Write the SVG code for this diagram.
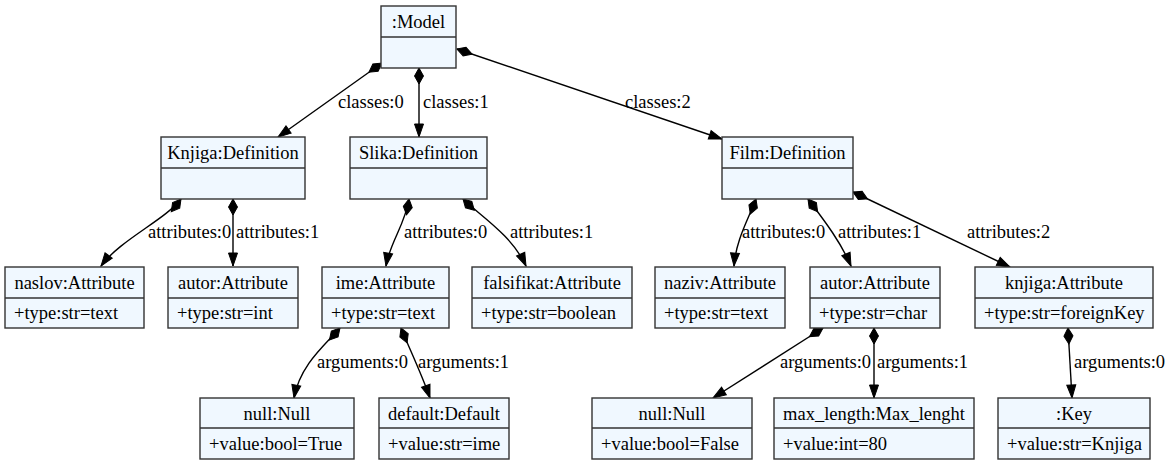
<svg xmlns="http://www.w3.org/2000/svg" width="1165" height="465" viewBox="0 0 1165 465" font-family="Times New Roman" font-size="18.5">
<style>
.box{fill:#f0f8ff;stroke:#333;stroke-width:1.4}
.div{stroke:#333;stroke-width:1.4}
.c{text-anchor:middle}
.e{fill:none;stroke:#000;stroke-width:1.4;marker-start:url(#dia);marker-end:url(#arr)}
</style>
<defs>
<marker id="dia" markerUnits="userSpaceOnUse" viewBox="-1 -6 19 12" markerWidth="19" markerHeight="12" refX="0" refY="0" orient="auto"><path d="M0,0 L8,-4.5 L16,0 L8,4.5 Z" fill="#000" stroke="#000" stroke-width="1"/></marker>
<marker id="arr" markerUnits="userSpaceOnUse" viewBox="-1 -6 15 12" markerWidth="15" markerHeight="12" refX="13" refY="0" orient="auto"><path d="M0,-4.5 L13,0 L0,4.5 Z" fill="#000" stroke="#000" stroke-width="1"/></marker>
</defs>
<rect width="1165" height="465" fill="#fff"/>
<g id="connectors">
<path class="e" d="M382,63 L278,137"/>
<path class="e" d="M419,68 L419,137"/>
<path class="e" d="M457,49 L722,139"/>
<path class="e" d="M181,199 C165,220 120,240 101,266"/>
<path class="e" d="M233,199 L233,266"/>
<path class="e" d="M409,199 C405,225 390,242 386,266"/>
<path class="e" d="M463,199 C478,214 512,235 526,266"/>
<path class="e" d="M756,199 C748,220 736,240 734,266"/>
<path class="e" d="M808,199 C820,215 840,240 851,266"/>
<path class="e" d="M853,192 L1010,267"/>
<path class="e" d="M340,328 C325,345 300,365 294,398"/>
<path class="e" d="M401,328 C410,350 422,375 430,398"/>
<path class="e" d="M823,328 L713,398"/>
<path class="e" d="M874,328 L874,398"/>
<path class="e" d="M1068,328 L1072,398"/>
<text x="338" y="108">classes:0</text>
<text x="423" y="108">classes:1</text>
<text x="625" y="108">classes:2</text>
<text x="148" y="238">attributes:0</text>
<text x="236" y="238">attributes:1</text>
<text x="404" y="238">attributes:0</text>
<text x="510" y="238">attributes:1</text>
<text x="742" y="238">attributes:0</text>
<text x="838" y="238">attributes:1</text>
<text x="967" y="238">attributes:2</text>
<text x="317" y="368">arguments:0</text>
<text x="418" y="368">arguments:1</text>
<text x="780" y="368">arguments:0</text>
<text x="877" y="368">arguments:1</text>
<text x="1074" y="368">arguments:0</text>
</g>
<g id="model"><rect class="box" x="381" y="6" width="75" height="62"/><line class="div" x1="381" y1="37" x2="456" y2="37"/><text class="c" x="418.5" y="28">:Model</text></g>
<g id="knjiga_def"><rect class="box" x="161" y="137" width="144" height="62"/><line class="div" x1="161" y1="168" x2="305" y2="168"/><text class="c" x="233" y="159">Knjiga:Definition</text></g>
<g id="slika_def"><rect class="box" x="350" y="137" width="137" height="62"/><line class="div" x1="350" y1="168" x2="487" y2="168"/><text class="c" x="418.5" y="159">Slika:Definition</text></g>
<g id="film_def"><rect class="box" x="722" y="137" width="131" height="62"/><line class="div" x1="722" y1="168" x2="853" y2="168"/><text class="c" x="787.5" y="159">Film:Definition</text></g>
<g id="naslov"><rect class="box" x="5" y="267" width="139" height="61"/><line class="div" x1="5" y1="298" x2="144" y2="298"/><text class="c" x="74.5" y="289">naslov:Attribute</text><text x="14" y="319">+type:str=text</text></g>
<g id="autor_k"><rect class="box" x="168" y="267" width="130" height="61"/><line class="div" x1="168" y1="298" x2="298" y2="298"/><text class="c" x="233" y="289">autor:Attribute</text><text x="177" y="319">+type:str=int</text></g>
<g id="ime"><rect class="box" x="322" y="267" width="127" height="61"/><line class="div" x1="322" y1="298" x2="449" y2="298"/><text class="c" x="385.5" y="289">ime:Attribute</text><text x="331" y="319">+type:str=text</text></g>
<g id="falsifikat"><rect class="box" x="472" y="267" width="160" height="61"/><line class="div" x1="472" y1="298" x2="632" y2="298"/><text class="c" x="552" y="289">falsifikat:Attribute</text><text x="481" y="319">+type:str=boolean</text></g>
<g id="naziv"><rect class="box" x="655" y="267" width="130" height="61"/><line class="div" x1="655" y1="298" x2="785" y2="298"/><text class="c" x="720" y="289">naziv:Attribute</text><text x="664" y="319">+type:str=text</text></g>
<g id="autor_f"><rect class="box" x="810" y="267" width="130" height="61"/><line class="div" x1="810" y1="298" x2="940" y2="298"/><text class="c" x="875" y="289">autor:Attribute</text><text x="819" y="319">+type:str=char</text></g>
<g id="knjiga_attr"><rect class="box" x="975" y="267" width="178" height="61"/><line class="div" x1="975" y1="298" x2="1153" y2="298"/><text class="c" x="1064" y="289">knjiga:Attribute</text><text x="984" y="319">+type:str=foreignKey</text></g>
<g id="null_ime"><rect class="box" x="200" y="398" width="154" height="61"/><line class="div" x1="200" y1="428" x2="354" y2="428"/><text class="c" x="277" y="420">null:Null</text><text x="209" y="450">+value:bool=True</text></g>
<g id="default"><rect class="box" x="379" y="398" width="130" height="61"/><line class="div" x1="379" y1="428" x2="509" y2="428"/><text class="c" x="444" y="420">default:Default</text><text x="388" y="450">+value:str=ime</text></g>
<g id="null_autor"><rect class="box" x="592" y="398" width="160" height="61"/><line class="div" x1="592" y1="428" x2="752" y2="428"/><text class="c" x="672" y="420">null:Null</text><text x="601" y="450">+value:bool=False</text></g>
<g id="max_length"><rect class="box" x="774" y="398" width="200" height="61"/><line class="div" x1="774" y1="428" x2="974" y2="428"/><text class="c" x="874" y="420">max_length:Max_lenght</text><text x="783" y="450">+value:int=80</text></g>
<g id="key"><rect class="box" x="998" y="398" width="152" height="61"/><line class="div" x1="998" y1="428" x2="1150" y2="428"/><text class="c" x="1074" y="420">:Key</text><text x="1007" y="450">+value:str=Knjiga</text></g>
</svg>
